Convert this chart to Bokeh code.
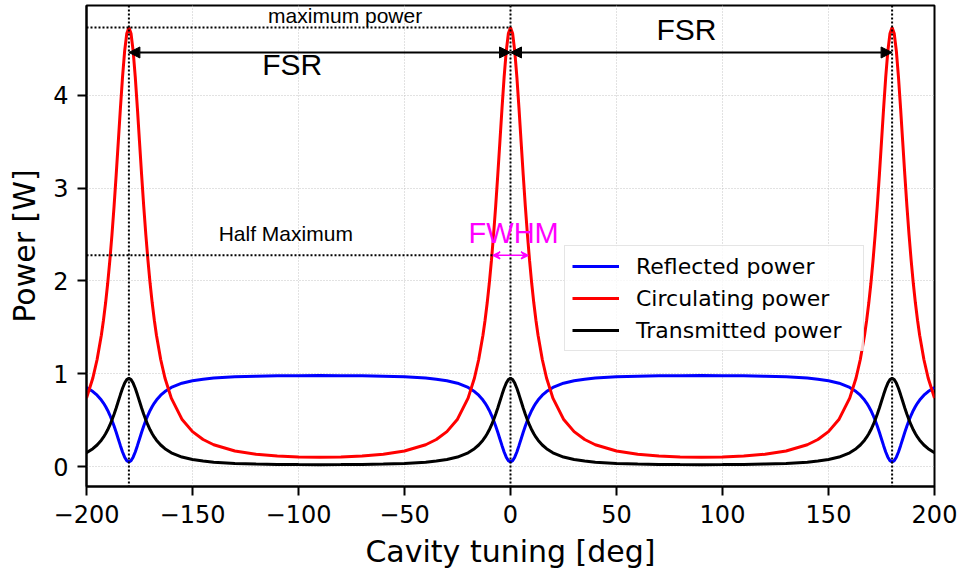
from bokeh.plotting import figure
from bokeh.models import (Span, Arrow, NormalHead, VeeHead, Label, Legend,
                          LegendItem, FixedTicker, Range1d)
from bokeh.embed import file_html
from bokeh.resources import INLINE

# ---------------- data ----------------
tuning_deg = [
    -200, -197, -195, -193, -192, -191, -190, -189, -188, -187, -186, -185, -184, -183, -182, -181, -180,
    -179, -178, -177, -176, -175, -174, -173, -172, -171, -170, -169, -168, -167, -165, -163, -160, -155,
    -150, -145, -140, -130, -120, -110, -100, -90,
    -80, -70, -60, -50, -40, -35, -30, -25, -20, -17, -15, -13, -12, -11, -10, -9, -8, -7, -6, -5, -4,
    -3, -2, -1, 0,
    1, 2, 3, 4, 5, 6, 7, 8, 9, 10, 11, 12, 13, 15, 17, 20, 25, 30, 35, 40, 50, 60, 70, 80, 90,
    100, 110, 120, 130, 140, 145, 150, 155, 160, 163, 165, 167, 168, 169, 170, 171, 172, 173, 174, 175,
    176, 177, 178, 179, 180,
    181, 182, 183, 184, 185, 186, 187, 188, 189, 190, 191, 192, 193, 195, 197, 200,
]

circulating_power = [
    0.737, 0.954, 1.153, 1.415, 1.576, 1.761, 1.974, 2.217, 2.494, 2.803, 3.141, 3.500, 3.860, 4.198, 4.477, 4.664, 4.730,
    4.664, 4.477, 4.198, 3.860, 3.500, 3.141, 2.803, 2.494, 2.217, 1.974, 1.761, 1.576, 1.415, 1.153, 0.954, 0.737, 0.510,
    0.376, 0.291, 0.235, 0.168, 0.132, 0.113, 0.103, 0.100,
    0.103, 0.113, 0.132, 0.168, 0.235, 0.291, 0.376, 0.510, 0.737, 0.954, 1.153, 1.415, 1.576, 1.761, 1.974, 2.217, 2.494,
    2.803, 3.141, 3.500, 3.860, 4.198, 4.477, 4.664, 4.730,
    4.664, 4.477, 4.198, 3.860, 3.500, 3.141, 2.803, 2.494, 2.217, 1.974, 1.761, 1.576, 1.415, 1.153, 0.954, 0.737, 0.510,
    0.376, 0.291, 0.235, 0.168, 0.132, 0.113, 0.103, 0.100,
    0.103, 0.113, 0.132, 0.168, 0.235, 0.291, 0.376, 0.510, 0.737, 0.954, 1.153, 1.415, 1.576, 1.761, 1.974, 2.217, 2.494,
    2.803, 3.141, 3.500, 3.860, 4.198, 4.477, 4.664, 4.730,
    4.664, 4.477, 4.198, 3.860, 3.500, 3.141, 2.803, 2.494, 2.217, 1.974, 1.761, 1.576, 1.415, 1.153, 0.954, 0.737,
]

transmitted_power = [
    0.148, 0.192, 0.232, 0.284, 0.316, 0.354, 0.396, 0.445, 0.501, 0.563, 0.631, 0.703, 0.775, 0.843, 0.899, 0.936, 0.950,
    0.936, 0.899, 0.843, 0.775, 0.703, 0.631, 0.563, 0.501, 0.445, 0.396, 0.354, 0.316, 0.284, 0.232, 0.192, 0.148, 0.102,
    0.076, 0.059, 0.047, 0.034, 0.027, 0.023, 0.021, 0.020,
    0.021, 0.023, 0.027, 0.034, 0.047, 0.059, 0.076, 0.102, 0.148, 0.192, 0.232, 0.284, 0.316, 0.354, 0.396, 0.445, 0.501,
    0.563, 0.631, 0.703, 0.775, 0.843, 0.899, 0.936, 0.950,
    0.936, 0.899, 0.843, 0.775, 0.703, 0.631, 0.563, 0.501, 0.445, 0.396, 0.354, 0.316, 0.284, 0.232, 0.192, 0.148, 0.102,
    0.076, 0.059, 0.047, 0.034, 0.027, 0.023, 0.021, 0.020,
    0.021, 0.023, 0.027, 0.034, 0.047, 0.059, 0.076, 0.102, 0.148, 0.192, 0.232, 0.284, 0.316, 0.354, 0.396, 0.445, 0.501,
    0.563, 0.631, 0.703, 0.775, 0.843, 0.899, 0.936, 0.950,
    0.936, 0.899, 0.843, 0.775, 0.703, 0.631, 0.563, 0.501, 0.445, 0.396, 0.354, 0.316, 0.284, 0.232, 0.192, 0.148,
]

reflected_power = [
    0.852, 0.808, 0.768, 0.716, 0.684, 0.646, 0.604, 0.555, 0.499, 0.437, 0.369, 0.297, 0.225, 0.157, 0.101, 0.064, 0.050,
    0.064, 0.101, 0.157, 0.225, 0.297, 0.369, 0.437, 0.499, 0.555, 0.604, 0.646, 0.684, 0.716, 0.768, 0.808, 0.852, 0.898,
    0.924, 0.941, 0.953, 0.966, 0.973, 0.977, 0.979, 0.980,
    0.979, 0.977, 0.973, 0.966, 0.953, 0.941, 0.924, 0.898, 0.852, 0.808, 0.768, 0.716, 0.684, 0.646, 0.604, 0.555, 0.499,
    0.437, 0.369, 0.297, 0.225, 0.157, 0.101, 0.064, 0.050,
    0.064, 0.101, 0.157, 0.225, 0.297, 0.369, 0.437, 0.499, 0.555, 0.604, 0.646, 0.684, 0.716, 0.768, 0.808, 0.852, 0.898,
    0.924, 0.941, 0.953, 0.966, 0.973, 0.977, 0.979, 0.980,
    0.979, 0.977, 0.973, 0.966, 0.953, 0.941, 0.924, 0.898, 0.852, 0.808, 0.768, 0.716, 0.684, 0.646, 0.604, 0.555, 0.499,
    0.437, 0.369, 0.297, 0.225, 0.157, 0.101, 0.064, 0.050,
    0.064, 0.101, 0.157, 0.225, 0.297, 0.369, 0.437, 0.499, 0.555, 0.604, 0.646, 0.684, 0.716, 0.768, 0.808, 0.852,
]

series_labels = ["Reflected power", "Circulating power", "Transmitted power"]

resonances_deg = [-180, 0, 180]
maximum_power = max(circulating_power)
half_maximum = 2.275
fwhm_edges_deg = [-8.2, 8.3]
fsr_arrow_level = 4.46

x_ticks = [-200, -150, -100, -50, 0, 50, 100, 150, 200]
x_tick_labels = ["\u2212200", "\u2212150", "\u2212100", "\u221250", "0", "50", "100", "150", "200"]
y_ticks = [0, 1, 2, 3, 4]
y_tick_labels = ["0", "1", "2", "3", "4"]

# ---------------- figure ----------------
p = figure(frame_width=848, frame_height=481,
           x_range=Range1d(-200, 200), y_range=Range1d(-0.215, 4.966),
           output_backend="svg", toolbar_location=None,
           min_border_left=86, min_border_right=29, min_border_top=5, min_border_bottom=92,
           background_fill_color="white", border_fill_color="white")

p.outline_line_color = "black"
p.outline_line_width = 2

for ax in (p.xaxis, p.yaxis):
    ax.axis_line_width = 2
    ax.major_tick_line_width = 2
    ax.major_tick_out = 9
    ax.major_tick_in = 0
    ax.minor_tick_out = 0
    ax.minor_tick_in = 0
    ax.major_label_text_font = "DejaVu Sans"
    ax.major_label_text_font_size = "24px"
    ax.major_label_text_color = "black"
    ax.major_label_standoff = 9
    ax.axis_label_text_font = "DejaVu Sans"
    ax.axis_label_text_font_size = "30px"
    ax.axis_label_text_font_style = "normal"
    ax.axis_label_text_color = "black"
    ax.axis_label_standoff = 8

p.xaxis.ticker = FixedTicker(ticks=x_ticks)
p.xaxis.major_label_overrides = dict(zip(x_ticks, x_tick_labels))
p.yaxis.ticker = FixedTicker(ticks=y_ticks)
p.yaxis.major_label_overrides = dict(zip(y_ticks, y_tick_labels))
p.xaxis.axis_label = "Cavity tuning [deg]"
p.yaxis.axis_label = "Power [W]"

p.grid.grid_line_color = "#c4c4c4"
p.grid.grid_line_dash = "1 2"
p.grid.grid_line_width = 1

r_ref = p.line(tuning_deg, reflected_power, line_color="#0000ff", line_width=3)
r_circ = p.line(tuning_deg, circulating_power, line_color="#ff0000", line_width=3)
r_trans = p.line(tuning_deg, transmitted_power, line_color="black", line_width=3)

# guide lines
p.segment(x0=[x_ticks[0]], y0=[maximum_power], x1=[resonances_deg[1]], y1=[maximum_power],
          line_color="black", line_width=2, line_dash="2 2")
p.segment(x0=[x_ticks[0]], y0=[half_maximum], x1=[fwhm_edges_deg[0]], y1=[half_maximum],
          line_color="black", line_width=2, line_dash="2 2")
for r in resonances_deg:
    p.add_layout(Span(location=r, dimension="height", line_color="black",
                      line_width=2, line_dash="2 2"))

# FSR arrows
for a, b in zip(resonances_deg[:-1], resonances_deg[1:]):
    p.add_layout(Arrow(start=NormalHead(size=11, fill_color="black", line_color="black", line_width=1),
                       end=NormalHead(size=11, fill_color="black", line_color="black", line_width=1),
                       x_start=a, y_start=fsr_arrow_level, x_end=b, y_end=fsr_arrow_level,
                       line_color="black", line_width=2))

# FWHM arrow
p.add_layout(Arrow(start=VeeHead(size=7, fill_color="magenta", line_color="magenta", line_width=1.5),
                   end=VeeHead(size=7, fill_color="magenta", line_color="magenta", line_width=1.5),
                   x_start=fwhm_edges_deg[0], y_start=half_maximum,
                   x_end=fwhm_edges_deg[1], y_end=half_maximum,
                   line_color="magenta", line_width=1.5))

# text annotations
def add_label(x, y, text, size_px, color="black"):
    p.add_layout(Label(x=x, y=y, text=text, text_font="Liberation Sans",
                       text_font_size=f"{size_px}px", text_color=color,
                       text_align="center", text_baseline="alphabetic",
                       y_offset=round(0.42 * size_px)))

add_label(-78, 4.76, "maximum power", 21)
add_label(-103, 4.19, "FSR", 30)
add_label(83, 4.565, "FSR", 30)
add_label(-106, 2.41, "Half Maximum", 21)
add_label(1.5, 2.39, "FWHM", 29, color="magenta")

legend = Legend(items=[LegendItem(label=series_labels[0], renderers=[r_ref]),
                       LegendItem(label=series_labels[1], renderers=[r_circ]),
                       LegendItem(label=series_labels[2], renderers=[r_trans])],
                location=(478, 135), margin=0, padding=7, spacing=6,
                glyph_width=47, glyph_height=26, label_height=26, label_width=220,
                label_standoff=17,
                label_text_font="DejaVu Sans", label_text_font_size="22px",
                label_text_color="black",
                border_line_color="#cccccc", border_line_width=1.5,
                background_fill_color="white", background_fill_alpha=0.8)
p.add_layout(legend)

open("out.html", "w").write(file_html(p, INLINE))
